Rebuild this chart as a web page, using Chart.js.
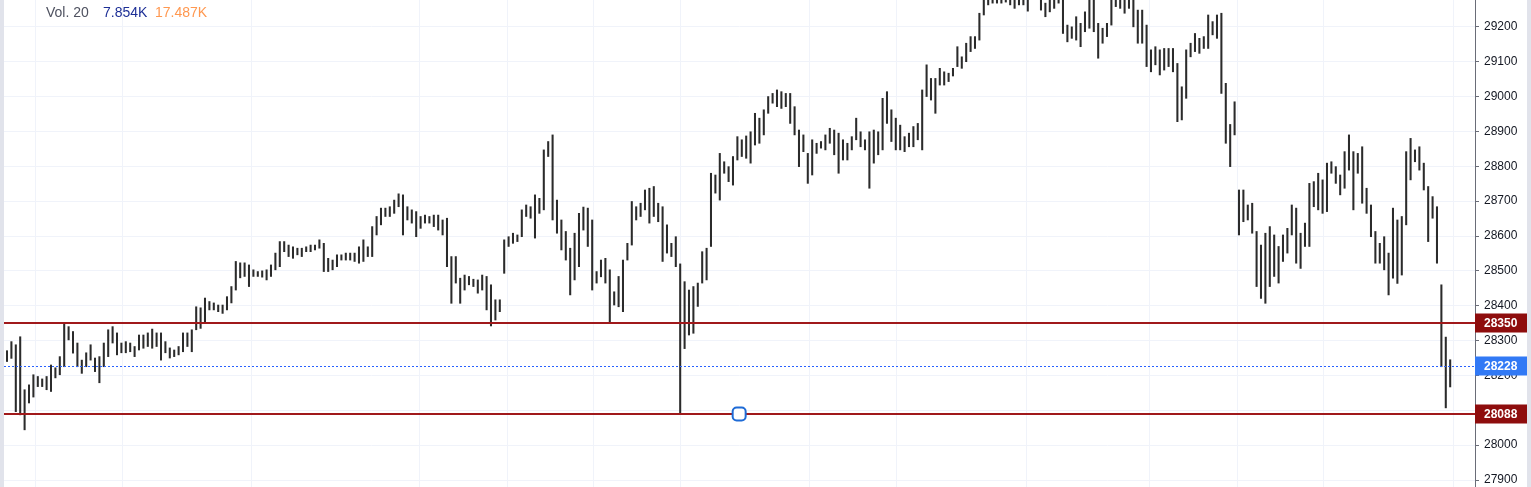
<!DOCTYPE html>
<html>
<head>
<meta charset="utf-8">
<script src="https://cdn.jsdelivr.net/npm/chart.js@4.4.1/dist/chart.umd.min.js"></script>
<style>
  html, body { margin: 0; padding: 0; background: #e1e3eb; }
  #wrap { position: absolute; left: 4px; top: 0; width: 1523px; height: 487px; background: #fff; }
</style>
</head>
<body>
<div id="wrap"><canvas id="chart" width="1523" height="487"></canvas></div>
<script>
// bar lows / highs (one bar per slot)
const lows = [
  28240,28249,28096,28087,28044,28121,28138,28168,28168,28159,28154,28193,28202,28225,28302,28264,28225,28206,28225,28244,
  28211,28179,28225,28254,28293,28259,28265,28265,28268,28254,28273,28278,28283,28278,28283,28244,28265,28250,28254,28259,
  28268,28283,28268,28331,28335,28351,28388,28388,28383,28378,28388,28408,28445,28480,28484,28455,28484,28484,28482,28474,
  28484,28503,28512,28555,28541,28536,28546,28541,28555,28555,28560,28565,28498,28498,28503,28512,28531,28531,28531,28527,
  28522,28527,28541,28541,28603,28632,28656,28656,28665,28684,28603,28646,28637,28598,28622,28637,28637,28627,28617,28603,
  28512,28407,28465,28407,28445,28460,28455,28436,28445,28388,28342,28359,28383,28493,28570,28579,28584,28598,28656,28651,
  28594,28665,28675,28828,28646,28608,28560,28531,28431,28474,28512,28617,28570,28445,28465,28483,28465,28352,28402,28397,
  28383,28531,28574,28646,28656,28675,28637,28656,28641,28527,28551,28541,28512,28088,28277,28316,28321,28398,28465,28474,
  28570,28723,28703,28780,28756,28746,28818,28828,28823,28809,28861,28866,28890,28952,28981,28971,28966,28971,28923,28890,
  28799,28842,28751,28775,28837,28852,28847,28866,28833,28780,28818,28818,28847,28876,28856,28847,28737,28809,28833,28847,
  28923,28871,28847,28847,28842,28856,28856,28876,28847,29000,28990,28952,29033,29033,29043,29059,29086,29081,29100,29129,
  29138,29162,29234,29263,29268,29268,29268,29271,29263,29253,29263,29263,29245,29285,29285,29248,29229,29243,29253,29268,
  29181,29157,29167,29162,29143,29186,29196,29186,29110,29153,29172,29205,29258,29253,29239,29253,29200,29153,29153,29086,
  29071,29091,29062,29076,29086,29071,28928,28933,28995,29114,29129,29124,29138,29138,29177,29167,29009,28866,28799,28890,
  28603,28641,28646,28608,28455,28421,28407,28455,28484,28465,28527,28551,28603,28522,28507,28570,28570,28684,28675,28665,
  28670,28780,28751,28718,28737,28789,28675,28780,28694,28665,28598,28522,28522,28503,28431,28479,28464,28488,28632,28761,
  28813,28789,28732,28584,28651,28522,28225,28107,28167
];
const highs = [
  28271,28297,28288,28311,28159,28173,28202,28197,28190,28197,28230,28222,28254,28351,28340,28326,28293,28244,28265,28288,
  28250,28254,28293,28331,28340,28322,28293,28297,28293,28283,28316,28316,28322,28333,28322,28322,28297,28279,28273,28283,
  28322,28322,28331,28397,28394,28422,28412,28408,28402,28402,28426,28455,28527,28523,28523,28517,28503,28498,28500,28503,
  28517,28551,28584,28584,28574,28569,28565,28565,28569,28574,28574,28589,28579,28536,28531,28546,28546,28551,28551,28551,
  28569,28589,28569,28627,28656,28680,28680,28684,28703,28721,28718,28684,28675,28670,28656,28660,28656,28660,28660,28646,
  28651,28541,28541,28479,28488,28484,28476,28474,28488,28484,28460,28417,28417,28589,28598,28608,28603,28675,28689,28684,
  28718,28708,28847,28871,28890,28703,28646,28613,28565,28608,28665,28683,28680,28646,28498,28531,28536,28503,28440,28484,
  28531,28579,28699,28684,28694,28732,28737,28742,28694,28684,28632,28579,28598,28520,28469,28445,28455,28465,28555,28565,
  28780,28775,28837,28813,28799,28828,28885,28876,28887,28899,28952,28938,28962,29000,29009,29019,29014,29009,29009,28971,
  28904,28890,28837,28876,28866,28871,28890,28909,28904,28895,28876,28866,28885,28938,28899,28876,28899,28904,28899,28995,
  29014,28962,28938,28918,28885,28895,28914,28923,29019,29091,29052,29052,29081,29071,29067,29081,29143,29114,29153,29172,
  29172,29239,29300,29310,29315,29320,29320,29325,29320,29310,29315,29315,29305,29330,29330,29310,29268,29300,29305,29320,
  29300,29205,29200,29229,29210,29243,29290,29290,29210,29196,29210,29290,29310,29310,29305,29310,29300,29248,29248,29205,
  29134,29143,29134,29138,29138,29138,29095,29028,29134,29153,29181,29167,29172,29234,29215,29234,29239,29038,28920,28985,
  28732,28732,28689,28694,28613,28574,28608,28627,28603,28570,28603,28622,28689,28680,28608,28637,28751,28756,28780,28761,
  28809,28813,28799,28775,28842,28890,28842,28837,28856,28737,28689,28613,28579,28598,28551,28680,28646,28656,28842,28880,
  28847,28856,28809,28742,28713,28684,28460,28310,28245
];
const yTicks = [27900, 28000, 28100, 28200, 28300, 28400, 28500, 28600, 28700, 28800, 28900, 29000, 29100, 29200];
// vertical grid lines, in bar slots
const gridIdx = [6.59, 26.14, 55.68, 93.86, 113.64, 133.41, 153.18, 182.5, 202.27, 231.82, 259.77, 279.55, 299.32, 328.86];
const levels = [28350, 28088];
const lastPrice = 28228;
const handleAt = 166.4;

const bars = lows.map((lo, i) => ({ x: i, y: [lo, highs[i]] }));

const overlay = {
  id: 'overlay',
  afterDatasetsDraw(chart) {
    const { ctx, chartArea: a, scales: { x, y } } = chart;
    ctx.save();
    // last price dotted line
    const yp = Math.round(y.getPixelForValue(lastPrice)) + 0.5;
    ctx.strokeStyle = '#2962ff';
    ctx.lineWidth = 1;
    ctx.setLineDash([2, 2]);
    ctx.beginPath(); ctx.moveTo(a.left, yp); ctx.lineTo(a.right, yp); ctx.stroke();
    ctx.setLineDash([]);
    // horizontal levels
    ctx.strokeStyle = '#a0191b';
    ctx.lineWidth = 2;
    levels.forEach(v => {
      const py = Math.round(y.getPixelForValue(v));
      ctx.beginPath(); ctx.moveTo(a.left, py); ctx.lineTo(a.right, py); ctx.stroke();
    });
    // drawing handle
    const hx = x.getPixelForValue(handleAt);
    const hy = Math.round(y.getPixelForValue(levels[1]));
    ctx.fillStyle = '#fff';
    ctx.strokeStyle = '#1e6bd6';
    ctx.lineWidth = 2;
    ctx.beginPath();
    ctx.roundRect(hx - 6.5, hy - 6.5, 13, 13, 4);
    ctx.fill(); ctx.stroke();
    ctx.restore();
  },
  afterDraw(chart) {
    const { ctx, chartArea: a, scales: { y }, width } = chart;
    ctx.save();
    ctx.font = 'bold 12px "Liberation Sans", Arial, sans-serif';
    ctx.textBaseline = 'middle';
    const tag = (v, bg) => {
      const py = Math.round(y.getPixelForValue(v));
      ctx.fillStyle = bg;
      ctx.fillRect(a.right, py - 9.5, width - a.right, 19);
      ctx.fillStyle = '#fff';
      ctx.fillText(String(v), a.right + 9, py + 0.5);
    };
    tag(levels[0], '#8e0d0d');
    tag(lastPrice, '#3179f5');
    tag(levels[1], '#8e0d0d');
    // volume legend
    ctx.font = '14px "Liberation Sans", Arial, sans-serif';
    ctx.fillStyle = '#4f5260';
    ctx.fillText('Vol. 20', 42, 13);
    ctx.fillStyle = '#1d2f96';
    ctx.fillText('7.854K', 99, 13);
    ctx.fillStyle = '#ff9850';
    ctx.fillText('17.487K', 151, 13);
    ctx.restore();
  }
};

const ctx = document.getElementById('chart').getContext('2d');
new Chart(ctx, {
  type: 'bar',
  data: {
    datasets: [{
      data: bars,
      backgroundColor: '#2b2b2b',
      barThickness: 1.4,
      clip: 0
    }]
  },
  options: {
    responsive: false,
    devicePixelRatio: 1,
    animation: false,
    layout: { padding: 0 },
    plugins: { legend: { display: false }, tooltip: { enabled: false } },
    scales: {
      x: {
        type: 'linear',
        min: -0.682,
        max: 333.64,
        offset: false,
        afterBuildTicks: s => { s.ticks = gridIdx.map(v => ({ value: v })); },
        ticks: { display: false },
        grid: { color: '#f0f3fa', drawTicks: false, offset: false },
        border: { display: false }
      },
      y: {
        position: 'right',
        min: 27880,
        max: 29277,
        afterBuildTicks: s => { s.ticks = yTicks.map(v => ({ value: v })); },
        afterFit: s => { s.width = 52; s.paddingTop = 0; s.paddingBottom = 0; },
        ticks: {
          color: '#131722',
          padding: 5,
          font: { family: '"Liberation Sans", Arial, sans-serif', size: 12 },
          callback: v => String(v)
        },
        grid: { color: '#f0f3fa', tickColor: '#6a6d78', tickLength: 4 },
        border: { color: '#6a6d78' }
      }
    }
  },
  plugins: [overlay]
});
</script>
</body>
</html>
